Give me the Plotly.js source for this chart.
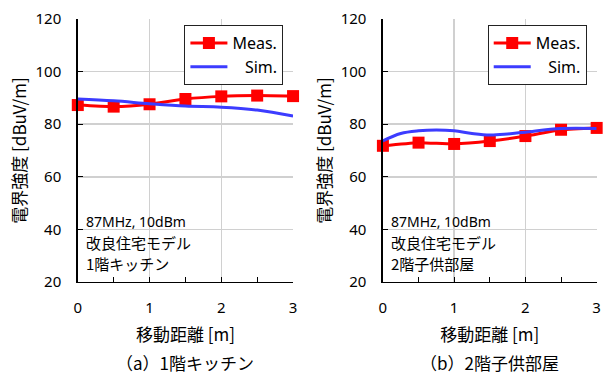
<!DOCTYPE html>
<html><head><meta charset="utf-8">
<script src="https://cdn.plot.ly/plotly-3.0.1.min.js"></script>
<style>body{margin:0;padding:0;background:#fff}#c{width:603px;height:374px}</style>
</head><body><div id="c"></div>
<script>
const measX = [0, 0.5, 1, 1.5, 2, 2.5, 3];
const measA = [87.3, 86.7, 87.6, 89.6, 90.6, 90.9, 90.7];
const measB = [71.8, 73.0, 72.5, 73.6, 75.5, 77.9, 78.6];
const simXA = [0, 0.5, 1, 1.5, 2, 2.5, 3];
const simA = [89.6, 88.9, 87.8, 86.9, 86.5, 85.4, 83.1];
const simXB = [0, 0.25, 0.5, 0.75, 1, 1.25, 1.5, 1.75, 2, 2.5, 3];
const simB = [73.7, 76.5, 77.5, 77.8, 77.5, 76.5, 75.9, 76.3, 77.0, 78.4, 78.4];
const xTicks = [0, 1, 2, 3];
const yTicks = [20, 40, 60, 80, 100, 120];
const noteLines = ["87MHz, 10dBm", "改良住宅モデル"];
const roomA = "1階キッチン", roomB = "2階子供部屋";
const captionA = "（a）1階キッチン", captionB = "（b）2階子供部屋";
const yTitle = "電界強度 [dBuV/m]", xTitle = "移動距離 [m]";

const JP = '"Noto Sans CJK JP", sans-serif';
const NUM = '"Noto Sans", "Noto Sans CJK JP", sans-serif';
const red = '#ff0000', blue = '#3c3cff';

function meas(y, xa, ya, lg){
  return {x: measX, y: y, xaxis: xa, yaxis: ya, legend: lg, name: 'Meas.', mode: 'lines+markers',
    line: {color: red, width: 3, shape: 'spline', smoothing: 0.6},
    marker: {symbol: 'square', size: 12, color: red}, cliponaxis: false};
}
function sim(x, y, xa, ya, lg){
  return {x: x, y: y, xaxis: xa, yaxis: ya, legend: lg, name: '\u00a0\u00a0\u00a0Sim.', mode: 'lines',
    line: {color: blue, width: 3, shape: 'spline', smoothing: 1}, cliponaxis: false};
}
const traces = [
  meas(measA, 'x', 'y', 'legend'), sim(simXA, simA, 'x', 'y', 'legend'),
  meas(measB, 'x2', 'y2', 'legend2'), sim(simXB, simB, 'x2', 'y2', 'legend2')
];

function xax(dom, anchor){
  return {domain: dom, anchor: anchor, range: [0, 3], tickvals: xTicks, ticks: 'inside', ticklen: 5,
    tickcolor: '#000', showline: true, linecolor: '#000', linewidth: 1.5, showgrid: true, gridcolor: '#d0d0d0',
    gridwidth: 1.5, zeroline: false, tickfont: {family: NUM, size: 15, color: '#000'}, ticklabelstandoff: 12,
    minor: {dtick: 0.5, tick0: 0, ticks: 'inside', ticklen: 5, tickcolor: '#000', showgrid: false},
    title: {text: xTitle, font: {family: JP, size: 17, color: '#000'}, standoff: 12}};
}
function yax(anchor){
  return {domain: [0.246, 0.949], anchor: anchor, range: [20, 120], tickvals: yTicks, ticks: 'inside', ticklen: 5,
    tickcolor: '#000', showline: true, linecolor: '#000', linewidth: 1.5, showgrid: true, gridcolor: '#d0d0d0',
    gridwidth: 1.5, zeroline: false, tickfont: {family: NUM, size: 15, color: '#000'}, ticklabelstandoff: 12,
    title: {text: yTitle, font: {family: JP, size: 17, color: '#000'}, standoff: 4}};
}
function legend(x){
  return {x: x, y: 1 - 25/374, xanchor: 'right', yanchor: 'top', xref: 'paper', yref: 'paper',
    bgcolor: '#fff', bordercolor: '#222', borderwidth: 1, itemwidth: 37,
    font: {family: NUM, size: 16, color: '#000'}, tracegroupgap: 0};
}
function notes(xa, ya, room){
  const lines = noteLines.concat([room]);
  return lines.map((t, i) => ({xref: xa + ' domain', yref: ya + ' domain', x: 0.03, y: 0.229 - i * 0.08,
    text: t, showarrow: false, xanchor: 'left', yanchor: 'middle',
    font: {family: i === 0 ? NUM : JP, size: i === 0 ? 14 : 15, color: '#000'}}));
}
const annotations = [].concat(
  notes('x', 'y', roomA), notes('x2', 'y2', roomB),
  [{xref: 'x domain', yref: 'paper', x: 0.5, y: 1 - 362/374, yanchor: 'middle', text: captionA, showarrow: false,
    font: {family: JP, size: 17, color: '#000'}},
   {xref: 'x2 domain', yref: 'paper', x: 0.5, y: 1 - 362/374, yanchor: 'middle', text: captionB, showarrow: false,
    font: {family: JP, size: 17, color: '#000'}}]
);

const layout = {
  width: 603, height: 374, margin: {l: 0, r: 0, t: 0, b: 0},
  paper_bgcolor: '#fff', plot_bgcolor: '#fff',
  xaxis: xax([0.129, 0.486], 'y'), yaxis: yax('x'),
  xaxis2: xax([0.635, 0.9895], 'y2'), yaxis2: yax('x2'),
  legend: legend(0.47), legend2: legend(0.973),
  annotations: annotations, showlegend: true
};
Plotly.newPlot('c', traces, layout, {displayModeBar: false, staticPlot: true});
</script></body></html>
